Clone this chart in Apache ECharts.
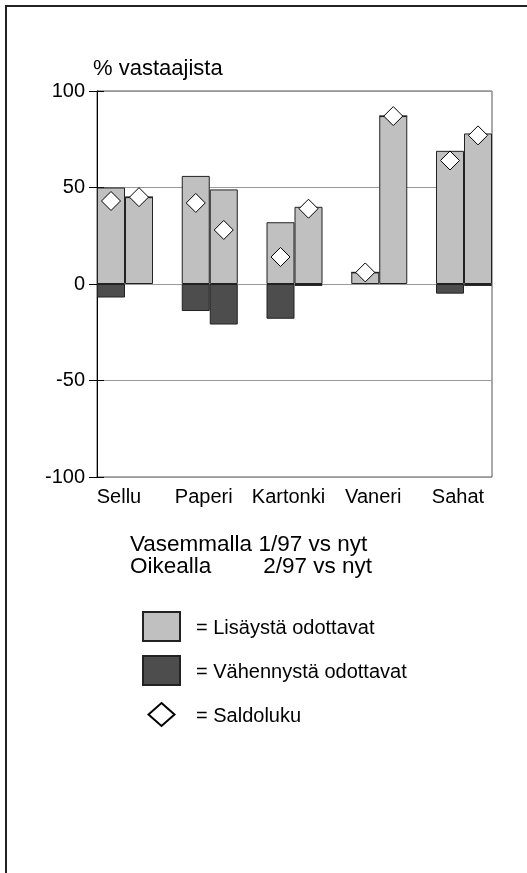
<!DOCTYPE html>
<html lang="fi">

<head>
    <meta charset="UTF-8">
    <title>Saldoluvut</title>
    <script src="https://cdn.jsdelivr.net/npm/echarts@6/dist/echarts.min.js"></script>
    <style>
        html,
        body {
            margin: 0;
            padding: 0;
        }
        #main {
            width: 527px;
            height: 873px;
        }
    </style>
</head>

<body>
    <div id="main"></div>
    <script>
        // data
        var categories = ['Sellu', 'Paperi', 'Kartonki', 'Vaneri', 'Sahat'];
        var increaseLeft = [50, 56, 32, 6, 69];      // 1/97 vs nyt
        var increaseRight = [45, 49, 40, 87, 78];    // 2/97 vs nyt
        var decreaseLeft = [-7, -14, -18, 0, -5];
        var decreaseRight = [0, -21, -1, 0, -1];
        var balanceLeft = [43, 42, 14, 6, 64];
        var balanceRight = [45, 28, 39, 87, 77];
        var yMin = -100, yMax = 100, yStep = 50;

        var font = "'Liberation Sans', Arial, sans-serif";
        var lightGray = '#c0c0c0';
        var darkGray = '#4d4d4d';

        var myChart = echarts.init(document.getElementById('main'));
        var option = {
            animation: false,
            backgroundColor: '#fff',
            title: {
                text: '% vastaajista',
                left: 93,
                top: 58,
                padding: 0,
                textStyle: { fontFamily: font, fontSize: 22, fontWeight: 'normal', color: '#000' }
            },
            // grid 0 = frame + y axis, grid 1 = bars (groups sit on category points)
            grid: [
                { left: 97, right: 35, top: 91, bottom: 396, show: true, borderColor: '#555', borderWidth: 1 },
                { left: 125, right: 63, top: 91, bottom: 396 }
            ],
            xAxis: [
                { gridIndex: 0, type: 'value', min: 0, max: 1, show: false },
                {
                    gridIndex: 1,
                    type: 'category',
                    data: categories,
                    boundaryGap: false,
                    axisLine: { show: false },
                    axisTick: { show: false },
                    axisLabel: {
                        interval: 0,
                        hideOverlap: false,
                        margin: 10,
                        padding: [0, 12, 0, 0],
                        fontFamily: font,
                        fontSize: 20,
                        color: '#000'
                    }
                }
            ],
            yAxis: [
                {
                    gridIndex: 0,
                    type: 'value',
                    min: yMin,
                    max: yMax,
                    interval: yStep,
                    axisLine: { show: true, lineStyle: { color: '#000', width: 1 } },
                    axisTick: { show: true, length: 8, lineStyle: { color: '#000' } },
                    axisLabel: { margin: 12, fontFamily: font, fontSize: 20, color: '#000' },
                    splitLine: { show: true, lineStyle: { color: '#999', width: 1 } }
                },
                {
                    // inner half of the ticks
                    gridIndex: 0,
                    type: 'value',
                    position: 'left',
                    min: yMin,
                    max: yMax,
                    interval: yStep,
                    axisLine: { show: false },
                    axisTick: { show: true, inside: true, length: 7, lineStyle: { color: '#000' } },
                    axisLabel: { show: false },
                    splitLine: { show: false }
                },
                { gridIndex: 1, type: 'value', min: yMin, max: yMax, interval: yStep, show: false }
            ],
            legend: {
                orient: 'vertical',
                left: 142,
                top: 611,
                padding: 0,
                itemWidth: 37,
                itemHeight: 29,
                itemGap: 13,
                selectedMode: false,
                formatter: '{p|= {name}}',
                textStyle: {
                    fontFamily: font,
                    fontSize: 20,
                    color: '#000',
                    rich: { p: { padding: [4, 0, 0, 11], fontFamily: font, fontSize: 20 } }
                },
                data: [
                    { name: 'Lisäystä odottavat', icon: 'rect' },
                    { name: 'Vähennystä odottavat', icon: 'rect' },
                    { name: 'Saldoluku', icon: 'path://M0,0M37,29M18.5,3L31.5,14.5L18.5,26L5.5,14.5Z' }
                ]
            },
            graphic: [
                {
                    type: 'polyline',
                    shape: { points: [[6, 873], [6, 6], [527, 6]] },
                    style: { stroke: '#222', lineWidth: 2, fill: null }
                },
                {
                    type: 'text', left: 130, top: 533,
                    style: { text: 'Vasemmalla 1/97 vs nyt', font: '22.5px ' + font, fill: '#000' }
                },
                {
                    type: 'text', left: 130, top: 555,
                    style: { text: 'Oikealla', font: '22.5px ' + font, fill: '#000' }
                },
                {
                    type: 'text', right: 155, top: 555,
                    style: { text: '2/97 vs nyt', font: '22.5px ' + font, fill: '#000' }
                }
            ],
            series: []
        };

        var barItem = function (color) {
            return { color: color, borderColor: '#222', borderWidth: 1 };
        };
        // positive bars
        option.series.push({
            name: 'Lisäystä odottavat', type: 'bar', xAxisIndex: 1, yAxisIndex: 2,
            stack: 'left', barWidth: 28, barGap: '0%', data: increaseLeft, itemStyle: barItem(lightGray)
        });
        option.series.push({
            name: 'Lisäystä odottavat', type: 'bar', xAxisIndex: 1, yAxisIndex: 2,
            stack: 'right', barWidth: 28, barGap: '0%', data: increaseRight, itemStyle: barItem(lightGray)
        });
        // negative bars
        option.series.push({
            name: 'Vähennystä odottavat', type: 'bar', xAxisIndex: 1, yAxisIndex: 2,
            stack: 'left', barWidth: 28, barGap: '0%', data: decreaseLeft, itemStyle: barItem(darkGray)
        });
        option.series.push({
            name: 'Vähennystä odottavat', type: 'bar', xAxisIndex: 1, yAxisIndex: 2,
            stack: 'right', barWidth: 28, barGap: '0%', data: decreaseRight, itemStyle: barItem(darkGray)
        });
        // saldoluku diamonds
        option.series.push({
            name: 'Saldoluku', type: 'scatter', xAxisIndex: 1, yAxisIndex: 2, z: 5,
            symbol: 'diamond', symbolSize: 19, symbolOffset: [-14, 0], data: balanceLeft,
            itemStyle: { color: '#fff', borderColor: '#000', borderWidth: 1, opacity: 1 }
        });
        option.series.push({
            name: 'Saldoluku', type: 'scatter', xAxisIndex: 1, yAxisIndex: 2, z: 5,
            symbol: 'diamond', symbolSize: 19, symbolOffset: [14, 0], data: balanceRight,
            itemStyle: { color: '#fff', borderColor: '#000', borderWidth: 1, opacity: 1 }
        });
        myChart.setOption(option);
    </script>
</body>

</html>
